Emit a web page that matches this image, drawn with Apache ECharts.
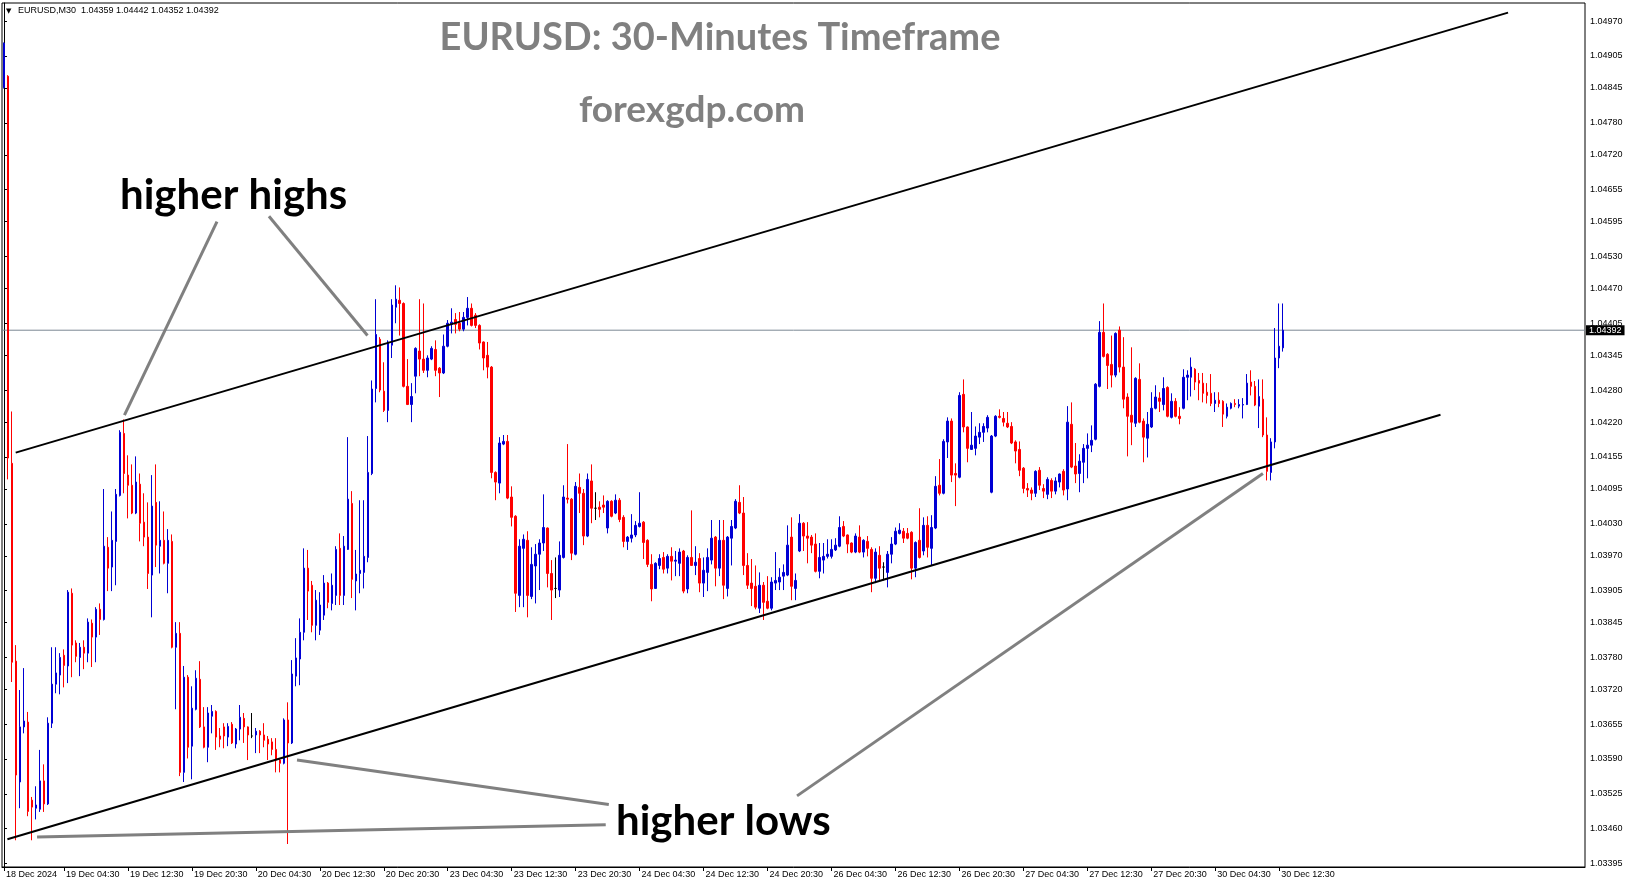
<!DOCTYPE html>
<html><head><meta charset="utf-8">
<script src="https://cdn.jsdelivr.net/npm/echarts@6/dist/echarts.min.js"></script>
<style>html,body{margin:0;padding:0;background:#fff}#c{width:1631px;height:888px}</style>
</head><body><div id="c"></div>
<script>
const openP = [
1.04846,1.04867,1.04143,1.03773,1.03547,1.03650,1.03659,1.03513,1.03498,1.03496,
1.03549,1.03506,1.03657,1.03730,1.03747,1.03784,1.03764,1.03900,1.03807,1.03780,
1.03799,1.03788,1.03844,1.03818,1.03870,1.03851,1.03986,1.03949,1.03997,1.04083,
1.04199,1.04121,1.04102,1.04050,1.04104,1.04033,1.04005,1.03934,1.04070,1.03988,
1.03999,1.03956,1.03997,1.03799,1.03825,1.03565,1.03743,1.03614,1.03683,1.03739,
1.03650,1.03612,1.03670,1.03679,1.03633,1.03650,1.03631,1.03655,1.03618,1.03646,
1.03666,1.03650,1.03633,1.03635,1.03642,1.03635,1.03627,1.03622,1.03608,1.03588,
1.03582,1.03663,1.03620,1.03745,1.03777,1.03827,1.03947,1.03915,1.03840,1.03831,
1.03859,1.03919,1.03881,1.03896,1.03984,1.03896,1.03982,1.04068,1.03923,1.03937,
1.03939,1.03967,1.04124,1.04283,1.04375,1.04278,1.04242,1.04364,1.04435,1.04448,
1.04442,1.04287,1.04253,1.04306,1.04353,1.04338,1.04317,1.04338,1.04356,1.04321,
1.04312,1.04362,1.04403,1.04412,1.04405,1.04394,1.04416,1.04433,1.04420,1.04401,
1.04370,1.04345,1.04323,1.04126,1.04106,1.04179,1.04184,1.04080,1.04044,1.03896,
1.03984,1.03999,1.03894,1.03951,1.03973,1.03994,1.04022,1.03937,1.03909,1.03906,
1.03967,1.04078,1.04076,1.03973,1.04098,1.04087,1.04007,1.04110,1.04059,1.04061,
1.04065,1.04022,1.04072,1.04050,1.04074,1.04042,1.03997,1.04003,1.04009,1.04025,
1.04033,1.03999,1.03954,1.03909,1.03952,1.03967,1.03947,1.03969,1.03960,1.03956,
1.03979,1.03908,1.03967,1.03952,1.03965,1.03919,1.03939,1.03962,1.04005,1.03947,
1.03999,1.03909,1.04003,1.04022,1.04070,1.04050,1.03952,1.03919,1.03913,1.03872,
1.03915,1.03885,1.03872,1.03919,1.03921,1.03932,1.03934,1.04005,1.03909,1.03979,
1.04031,1.04007,1.04005,1.03992,1.03941,1.03962,1.03969,1.03969,1.03981,1.03988,
1.04025,1.04009,1.03994,1.03977,1.04005,1.03977,1.03997,1.03982,1.03928,1.03971,
1.03949,1.03939,1.03973,1.03992,1.04012,1.04016,1.04012,1.04014,1.03947,1.03999,
1.03979,1.04027,1.03984,1.04022,1.04102,1.04087,1.04183,1.04222,1.04124,1.04117,
1.04272,1.04211,1.04169,1.04171,1.04192,1.04201,1.04209,1.04089,1.04194,1.04231,
1.04227,1.04218,1.04212,1.04183,1.04169,1.04134,1.04096,1.04093,1.04087,1.04130,
1.04096,1.04085,1.04111,1.04091,1.04108,1.04128,1.04095,1.04216,1.04138,1.04124,
1.04145,1.04171,1.04177,1.04188,1.04287,1.04388,1.04347,1.04328,1.04308,1.04392,
1.04323,1.04267,1.04233,1.04218,1.04300,1.04222,1.04190,1.04211,1.04246,1.04265,
1.04253,1.04285,1.04229,1.04259,1.04231,1.04246,1.04304,1.04304,1.04319,1.04298,
1.04293,1.04276,1.04274,1.04255,1.04261,1.04259,1.04231,1.04246,1.04255,1.04250,
1.04252,1.04253,1.04295,1.04287,1.04250,1.04263,1.04196,1.04126,1.04183,1.04340,
1.04359];
const closeP = [
1.04929,1.04153,1.03771,1.03560,1.03650,1.03661,1.03492,1.03500,1.03504,1.03549,
1.03506,1.03657,1.03730,1.03751,1.03780,1.03765,1.03902,1.03803,1.03782,1.03799,
1.03788,1.03846,1.03818,1.03870,1.03851,1.03988,1.03947,1.03999,1.04085,1.04201,
1.04124,1.04102,1.04050,1.04108,1.04031,1.04005,1.03937,1.04063,1.03990,1.03999,
1.03956,1.03999,1.03799,1.03825,1.03565,1.03743,1.03612,1.03685,1.03741,1.03650,
1.03612,1.03676,1.03679,1.03631,1.03627,1.03633,1.03651,1.03620,1.03646,1.03668,
1.03650,1.03635,1.03633,1.03642,1.03635,1.03625,1.03618,1.03608,1.03588,1.03582,
1.03663,1.03620,1.03749,1.03779,1.03827,1.03947,1.03904,1.03840,1.03887,1.03878,
1.03919,1.03883,1.03915,1.03982,1.03896,1.03988,1.04076,1.03926,1.03936,1.03943,
1.03969,1.04126,1.04282,1.04384,1.04280,1.04242,1.04370,1.04439,1.04450,1.04442,
1.04287,1.04253,1.04268,1.04358,1.04338,1.04317,1.04340,1.04358,1.04317,1.04312,
1.04362,1.04405,1.04407,1.04403,1.04394,1.04416,1.04433,1.04401,1.04401,1.04368,
1.04340,1.04323,1.04126,1.04108,1.04181,1.04184,1.04078,1.04042,1.03900,1.03988,
1.04001,1.03896,1.03954,1.03973,1.03994,1.04023,1.03937,1.03906,1.03909,1.03971,
1.04080,1.04076,1.03975,1.04100,1.04087,1.04007,1.04113,1.04059,1.04059,1.04057,
1.04061,1.04072,1.04044,1.04074,1.04038,1.03997,1.04005,1.04009,1.04027,1.04031,
1.03995,1.03954,1.03908,1.03956,1.03965,1.03945,1.03969,1.03960,1.03962,1.03977,
1.03904,1.03967,1.03952,1.03958,1.03919,1.03943,1.03967,1.04003,1.03947,1.03999,
1.03915,1.04005,1.04025,1.04072,1.04050,1.03952,1.03915,1.03909,1.03874,1.03915,
1.03883,1.03872,1.03921,1.03924,1.03930,1.03939,1.03990,1.03913,1.03924,1.04031,
1.04007,1.04003,1.03990,1.03941,1.03967,1.03969,1.03973,1.03982,1.03990,1.04023,
1.04007,1.03992,1.03977,1.04007,1.03977,1.03999,1.03984,1.03928,1.03977,1.03947,
1.03949,1.03973,1.03992,1.04016,1.04018,1.04003,1.04003,1.03947,1.03995,1.03967,
1.04027,1.03986,1.04023,1.04100,1.04087,1.04184,1.04222,1.04121,1.04121,1.04270,
1.04211,1.04171,1.04177,1.04194,1.04201,1.04212,1.04229,1.04194,1.04231,1.04229,
1.04220,1.04211,1.04181,1.04166,1.04130,1.04096,1.04093,1.04087,1.04128,1.04102,
1.04091,1.04113,1.04091,1.04110,1.04123,1.04093,1.04220,1.04136,1.04123,1.04147,
1.04171,1.04177,1.04186,1.04291,1.04388,1.04343,1.04326,1.04308,1.04386,1.04323,
1.04263,1.04231,1.04220,1.04302,1.04220,1.04192,1.04216,1.04246,1.04267,1.04259,
1.04283,1.04231,1.04259,1.04231,1.04227,1.04304,1.04308,1.04323,1.04295,1.04293,
1.04274,1.04270,1.04255,1.04261,1.04255,1.04235,1.04248,1.04255,1.04253,1.04253,
1.04253,1.04293,1.04287,1.04252,1.04268,1.04196,1.04128,1.04183,1.04340,1.04362,
1.04392];
const lowP = [
1.04844,1.04113,1.03734,1.03438,1.03498,1.03638,1.03483,1.03438,1.03477,1.03491,
1.03491,1.03504,1.03648,1.03713,1.03711,1.03724,1.03732,1.03743,1.03771,1.03745,
1.03758,1.03771,1.03762,1.03771,1.03822,1.03849,1.03904,1.03904,1.03915,1.04081,
1.04087,1.04040,1.04048,1.04048,1.03997,1.03988,1.03908,1.03855,1.03949,1.03937,
1.03954,1.03900,1.03797,1.03683,1.03558,1.03547,1.03591,1.03552,1.03681,1.03648,
1.03610,1.03584,1.03638,1.03607,1.03612,1.03610,1.03614,1.03618,1.03610,1.03625,
1.03620,1.03588,1.03629,1.03601,1.03601,1.03612,1.03588,1.03597,1.03565,1.03565,
1.03580,1.03431,1.03618,1.03726,1.03728,1.03812,1.03850,1.03827,1.03812,1.03822,
1.03850,1.03872,1.03868,1.03878,1.03878,1.03878,1.03981,1.03891,1.03868,1.03900,
1.03909,1.03958,1.04121,1.04257,1.04276,1.04239,1.04220,1.04340,1.04405,1.04382,
1.04285,1.04252,1.04220,1.04274,1.04306,1.04312,1.04304,1.04336,1.04306,1.04267,
1.04310,1.04360,1.04386,1.04386,1.04390,1.04390,1.04401,1.04399,1.04396,1.04356,
1.04317,1.04302,1.04115,1.04074,1.04087,1.04177,1.04076,1.04025,1.03865,1.03874,
1.03874,1.03855,1.03889,1.03881,1.03906,1.03979,1.03911,1.03850,1.03891,1.03893,
1.03965,1.04068,1.03962,1.03971,1.04050,1.03990,1.04005,1.04031,1.04037,1.04042,
1.04050,1.04012,1.04042,1.04048,1.04033,1.03986,1.03981,1.03995,1.04005,1.04023,
1.03964,1.03949,1.03885,1.03908,1.03945,1.03937,1.03937,1.03924,1.03932,1.03932,
1.03900,1.03900,1.03951,1.03934,1.03902,1.03893,1.03904,1.03954,1.03913,1.03932,
1.03889,1.03894,1.03952,1.04020,1.04048,1.03934,1.03908,1.03876,1.03870,1.03863,
1.03850,1.03870,1.03868,1.03906,1.03906,1.03906,1.03932,1.03887,1.03887,1.03977,
1.03979,1.03956,1.03975,1.03939,1.03928,1.03937,1.03965,1.03965,1.03979,1.03986,
1.04005,1.03975,1.03975,1.03975,1.03975,1.03967,1.03969,1.03902,1.03919,1.03923,
1.03924,1.03911,1.03956,1.03990,1.04010,1.03994,1.04001,1.03926,1.03930,1.03965,
1.03971,1.03967,1.03951,1.04020,1.04083,1.04085,1.04153,1.04108,1.04063,1.04115,
1.04201,1.04145,1.04168,1.04158,1.04179,1.04183,1.04201,1.04087,1.04192,1.04227,
1.04212,1.04209,1.04179,1.04143,1.04119,1.04087,1.04080,1.04074,1.04080,1.04093,
1.04078,1.04076,1.04078,1.04085,1.04098,1.04083,1.04074,1.04134,1.04106,1.04089,
1.04106,1.04115,1.04164,1.04186,1.04285,1.04341,1.04282,1.04285,1.04304,1.04313,
1.04246,1.04156,1.04177,1.04211,1.04218,1.04145,1.04154,1.04209,1.04244,1.04239,
1.04242,1.04229,1.04227,1.04229,1.04216,1.04244,1.04261,1.04268,1.04280,1.04261,
1.04257,1.04255,1.04250,1.04239,1.04248,1.04211,1.04227,1.04244,1.04248,1.04246,
1.04227,1.04252,1.04270,1.04250,1.04209,1.04192,1.04111,1.04111,1.04171,1.04321,
1.04352];
const highP = [
1.04930,1.04869,1.04240,1.03803,1.03719,1.03760,1.03678,1.03519,1.03539,1.03607,
1.03580,1.03668,1.03799,1.03799,1.03788,1.03795,1.03906,1.03909,1.03812,1.03807,
1.03812,1.03853,1.03851,1.03874,1.03881,1.04095,1.04005,1.04053,1.04095,1.04205,
1.04225,1.04158,1.04141,1.04156,1.04124,1.04087,1.04070,1.04121,1.04141,1.04072,
1.04053,1.04020,1.04010,1.03846,1.03846,1.03764,1.03747,1.03726,1.03756,1.03773,
1.03687,1.03687,1.03691,1.03681,1.03648,1.03657,1.03657,1.03659,1.03648,1.03691,
1.03676,1.03651,1.03676,1.03648,1.03644,1.03657,1.03633,1.03629,1.03629,1.03591,
1.03666,1.03696,1.03775,1.03816,1.03853,1.03984,1.03981,1.03923,1.03906,1.03902,
1.03934,1.03921,1.03937,1.03988,1.04012,1.04007,1.04192,1.04091,1.03981,1.04074,
1.04074,1.04194,1.04298,1.04450,1.04379,1.04332,1.04373,1.04450,1.04476,1.04472,
1.04444,1.04338,1.04293,1.04360,1.04450,1.04442,1.04345,1.04362,1.04373,1.04323,
1.04384,1.04411,1.04433,1.04424,1.04426,1.04426,1.04454,1.04442,1.04424,1.04403,
1.04371,1.04370,1.04325,1.04128,1.04192,1.04196,1.04196,1.04100,1.04046,1.04001,
1.04010,1.04016,1.03986,1.03992,1.04001,1.04085,1.04023,1.03962,1.03967,1.03997,
1.04102,1.04179,1.04078,1.04108,1.04124,1.04095,1.04124,1.04141,1.04089,1.04072,
1.04083,1.04074,1.04074,1.04085,1.04078,1.04046,1.04007,1.04048,1.04035,1.04089,
1.04035,1.04001,1.03973,1.03958,1.03973,1.03977,1.03973,1.03986,1.03979,1.03984,
1.03981,1.03971,1.04055,1.03988,1.03975,1.03967,1.03984,1.04037,1.04007,1.04037,
1.04037,1.04007,1.04037,1.04076,1.04102,1.04080,1.03975,1.03964,1.03952,1.03939,
1.03921,1.03932,1.03930,1.03977,1.03947,1.03954,1.04027,1.04042,1.03937,1.04048,
1.04033,1.04033,1.04009,1.04012,1.03994,1.03994,1.04001,1.04001,1.04003,1.04044,
1.04035,1.04010,1.03995,1.04012,1.04027,1.04001,1.04007,1.03986,1.03984,1.03988,
1.03958,1.03979,1.04005,1.04023,1.04031,1.04022,1.04022,1.04016,1.03997,1.04059,
1.04042,1.04044,1.04046,1.04119,1.04151,1.04188,1.04229,1.04227,1.04143,1.04276,
1.04300,1.04212,1.04239,1.04212,1.04218,1.04218,1.04233,1.04196,1.04233,1.04244,
1.04239,1.04239,1.04220,1.04186,1.04184,1.04136,1.04106,1.04098,1.04130,1.04136,
1.04104,1.04117,1.04115,1.04117,1.04124,1.04132,1.04250,1.04257,1.04181,1.04160,
1.04179,1.04199,1.04214,1.04293,1.04409,1.04442,1.04349,1.04382,1.04388,1.04399,
1.04379,1.04274,1.04360,1.04304,1.04330,1.04227,1.04239,1.04276,1.04289,1.04276,
1.04304,1.04287,1.04274,1.04265,1.04248,1.04319,1.04317,1.04341,1.04321,1.04312,
1.04312,1.04293,1.04310,1.04276,1.04276,1.04261,1.04255,1.04257,1.04263,1.04263,
1.04265,1.04310,1.04317,1.04297,1.04300,1.04300,1.04229,1.04190,1.04396,1.04442,
1.04442];

const tickIndex = [0,15,31,47,63,79,95,111,127,143,159,175,191,207,223,239,255,271,287,303,319];
const tickLabels = ['18 Dec 2024','19 Dec 04:30','19 Dec 12:30','19 Dec 20:30','20 Dec 04:30','20 Dec 12:30',
 '20 Dec 20:30','23 Dec 04:30','23 Dec 12:30','23 Dec 20:30','24 Dec 04:30','24 Dec 12:30','24 Dec 20:30',
 '26 Dec 04:30','26 Dec 12:30','26 Dec 20:30','27 Dec 04:30','27 Dec 12:30','27 Dec 20:30','30 Dec 04:30','30 Dec 12:30'];
const yTicks = [1.04970,1.04905,1.04845,1.04780,1.04720,1.04655,1.04595,1.04530,1.04470,1.04405,1.04345,1.04280,
 1.04220,1.04155,1.04095,1.04030,1.03970,1.03905,1.03845,1.03780,1.03720,1.03655,1.03590,1.03525,1.03460,1.03395];
const lastPrice = 1.04392;
const headerText = 'EURUSD,M30  1.04359 1.04442 1.04352 1.04392';
const titleText = 'EURUSD: 30-Minutes Timeframe';
const subText = 'forexgdp.com';
const upperChannel = [[2.93, 1.04163], [376.25, 1.04986]];
const lowerChannel = [[0.85, 1.03440], [359.35, 1.04234]];
const pointerLines = [
  [[53.28, 1.04595], [30.13, 1.04233]],
  [[66.28, 1.04605], [90.93, 1.04382]],
  [[151.30, 1.03505], [73.30, 1.03588]],
  [[150.53, 1.03467], [8.28, 1.03444]],
  [[198.38, 1.03521], [314.93, 1.04124]]
];

const N = 396;
const cats = Array.from({length: N}, (_, i) => String(i));
const labelAt = {};
tickIndex.forEach((k, j) => { labelAt[k] = tickLabels[j]; });
const candles = openP.map((o, i) => [o, closeP[i], lowP[i], highP[i]]);
const isTick = (i) => Object.prototype.hasOwnProperty.call(labelAt, i);

const chart = echarts.init(document.getElementById('c'), null, {renderer: 'canvas'});
const series = [{
  type: 'line', xAxisIndex: 1, yAxisIndex: 0, silent: true, symbol: 'none', z: 1,
  data: [[-0.5, lastPrice], [N - 0.5, lastPrice]],
  lineStyle: {color: '#7c8894', width: 1},
  endLabel: {show: true, formatter: () => lastPrice.toFixed(5), backgroundColor: '#000', color: '#fff',
    fontSize: 9, fontFamily: 'Liberation Sans', padding: [1, 3, 0, 3], distance: 1}
}, {
  type: 'candlestick', xAxisIndex: 0, yAxisIndex: 0, data: candles, barWidth: 2, z: 2,
  itemStyle: {color: '#0000d4', color0: '#ff0000', borderColor: '#0000d4', borderColor0: '#ff0000',
              borderColorDoji: '#000000', borderWidth: 1}
}];
[upperChannel, lowerChannel].forEach(d => series.push({
  type: 'line', xAxisIndex: 1, yAxisIndex: 0, data: d, symbol: 'none', silent: true,
  lineStyle: {color: '#000', width: 2}, z: 5
}));
pointerLines.forEach(d => series.push({
  type: 'line', xAxisIndex: 1, yAxisIndex: 0, data: d, symbol: 'none', silent: true,
  lineStyle: {color: '#808080', width: 3}, z: 5
}));

chart.setOption({
  animation: false,
  backgroundColor: '#fff',
  grid: {left: 2, right: 46, top: 3, bottom: 21, show: true, borderColor: '#000', borderWidth: 1},
  xAxis: [{
    type: 'category', data: cats, boundaryGap: true,
    axisLine: {show: true, lineStyle: {color: '#000'}},
    axisTick: {show: true, alignWithLabel: true, interval: (i) => isTick(i), length: 4, lineStyle: {color: '#000'}},
    axisLabel: {show: true, interval: (i) => isTick(i), formatter: (v, i) => labelAt[i] || '',
      align: 'left', color: '#000', fontSize: 9, fontFamily: 'Liberation Sans', margin: 3, padding: [0, 0, 0, 2]},
    splitLine: {show: false}
  }, {
    type: 'value', min: -0.5, max: N - 0.5, show: false
  }],
  yAxis: {
    type: 'value', position: 'right', min: 1.03388, max: 1.05004,
    axisLine: {show: true, lineStyle: {color: '#000'}},
    axisTick: {show: true, customValues: yTicks, length: 3, lineStyle: {color: '#000'}},
    axisLabel: {customValues: yTicks, formatter: (v) => v.toFixed(5), color: '#000', fontSize: 9,
      fontFamily: 'Liberation Sans', margin: 5},
    splitLine: {show: false}
  },
  graphic: [
    {type: 'text', x: 6, y: 11, style: {text: '\u25BC', fill: '#000', font: '7px "DejaVu Sans"', align: 'left', verticalAlign: 'middle'}},
    {type: 'text', x: 18, y: 11, style: {text: headerText, fill: '#000', font: '9px "Liberation Sans"', align: 'left', verticalAlign: 'middle'}},
    {type: 'text', x: 720, y: 38, style: {text: titleText, fill: '#808080', font: 'bold 38px Lato', align: 'center', verticalAlign: 'middle'}},
    {type: 'text', x: 692, y: 110, style: {text: subText, fill: '#808080', font: 'bold 37px Lato', align: 'center', verticalAlign: 'middle'}},
    {type: 'text', x: 120, y: 195, style: {text: 'higher highs', fill: '#000', font: 'bold 42px Lato', align: 'left', verticalAlign: 'middle'}},
    {type: 'text', x: 616, y: 821, style: {text: 'higher lows', fill: '#000', font: 'bold 42px Lato', align: 'left', verticalAlign: 'middle'}}
  ],
  series: series
});
</script>
</body></html>
